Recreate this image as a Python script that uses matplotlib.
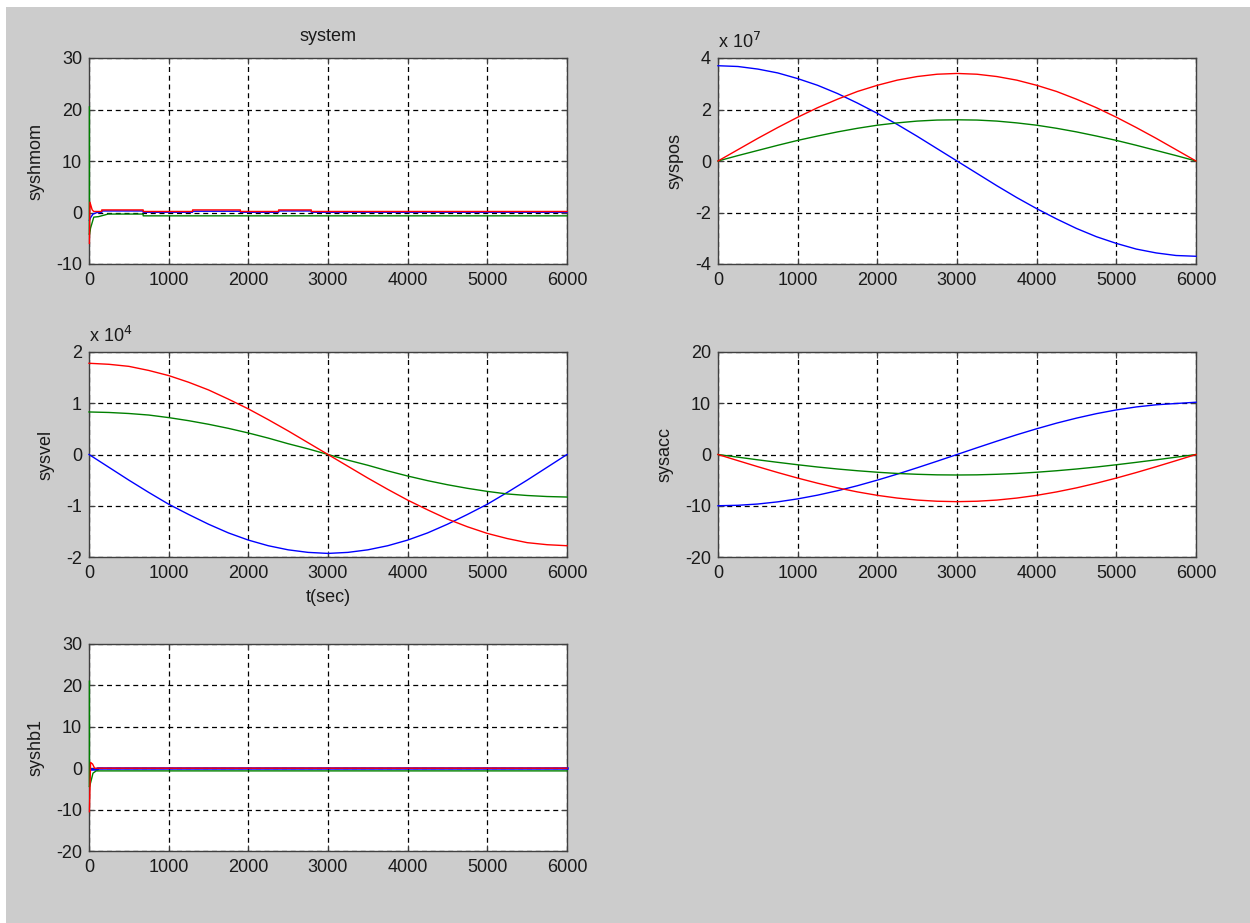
import numpy as np
import matplotlib
matplotlib.use("Agg")
import matplotlib.pyplot as plt
from matplotlib.patches import Rectangle

plt.rcParams['font.family'] = ['Liberation Sans', 'DejaVu Sans']
plt.rcParams['axes.unicode_minus'] = False

# --- time samples (sec) ---
t = [0, 250, 500, 750, 1000, 1250, 1500, 1750, 2000, 2250, 2500, 2750, 3000,
     3250, 3500, 3750, 4000, 4250, 4500, 4750, 5000, 5250, 5500, 5750, 6000]

# --- syspos (x 1e7) ---
pos_blue = [3.70, 3.67, 3.57, 3.42, 3.20, 2.94, 2.62, 2.25, 1.85, 1.42, 0.96, 0.48, 0.00,
            -0.48, -0.96, -1.42, -1.85, -2.25, -2.62, -2.94, -3.20, -3.42, -3.57, -3.67, -3.70]
pos_green = [0, 0.21, 0.41, 0.61, 0.80, 0.97, 1.13, 1.27, 1.39, 1.48, 1.55, 1.59, 1.60,
             1.59, 1.55, 1.48, 1.39, 1.27, 1.13, 0.97, 0.80, 0.61, 0.41, 0.21, 0]
pos_red = [0, 0.44, 0.88, 1.30, 1.70, 2.07, 2.40, 2.70, 2.94, 3.14, 3.28, 3.37, 3.40,
           3.37, 3.28, 3.14, 2.94, 2.70, 2.40, 2.07, 1.70, 1.30, 0.88, 0.44, 0]

# --- sysvel (x 1e4) ---
vel_blue = [0, -0.25, -0.50, -0.74, -0.97, -1.17, -1.36, -1.53, -1.67, -1.78, -1.86, -1.91, -1.93,
            -1.91, -1.86, -1.78, -1.67, -1.53, -1.36, -1.17, -0.97, -0.74, -0.50, -0.25, 0]
vel_green = [0.83, 0.82, 0.80, 0.77, 0.72, 0.66, 0.59, 0.51, 0.42, 0.32, 0.21, 0.11, 0,
             -0.11, -0.21, -0.32, -0.42, -0.51, -0.59, -0.66, -0.72, -0.77, -0.80, -0.82, -0.83]
vel_red = [1.78, 1.76, 1.72, 1.64, 1.54, 1.41, 1.26, 1.08, 0.89, 0.68, 0.46, 0.23, 0,
           -0.23, -0.46, -0.68, -0.89, -1.08, -1.26, -1.41, -1.54, -1.64, -1.72, -1.76, -1.78]

# --- sysacc ---
acc_blue = [-10.0, -9.91, -9.66, -9.24, -8.66, -7.93, -7.07, -6.09, -5.00, -3.83, -2.59, -1.31, 0,
            1.31, 2.60, 3.85, 5.02, 6.12, 7.10, 7.97, 8.70, 9.28, 9.70, 9.95, 10.2]
acc_green = [0, -0.52, -1.04, -1.53, -2.00, -2.44, -2.83, -3.17, -3.46, -3.70, -3.86, -3.97, -4.00,
             -3.97, -3.86, -3.70, -3.46, -3.17, -2.83, -2.44, -2.00, -1.53, -1.04, -0.52, 0]
acc_red = [0, -1.20, -2.38, -3.52, -4.60, -5.60, -6.51, -7.30, -7.97, -8.50, -8.89, -9.12, -9.20,
           -9.12, -8.89, -8.50, -7.97, -7.30, -6.51, -5.60, -4.60, -3.52, -2.38, -1.20, 0]

# --- syshmom ---
hmom_t_blue = [5, 20, 50, 100, 160, 160, 680, 680, 1300, 1300, 1900, 1900, 2380, 2380, 2790, 2790, 6000]
hmom_blue = [-1.5, -1.0, -0.3, 0.0, 0.0, 0.3, 0.3, 0.05, 0.05, 0.25, 0.25, 0.05, 0.05, 0.3, 0.3, 0.05, 0.05]
hmom_t_green = [5, 5, 20, 60, 120, 240, 680, 680, 6000]
hmom_green = [20.5, -4.3, -3.0, -0.9, -0.8, -0.3, -0.3, -0.65, -0.65]
hmom_t_red = [5, 12, 40, 60, 160, 160, 680, 680, 1300, 1300, 1900, 1900, 2380, 2380, 2790, 2790, 6000]
hmom_red = [-6.0, 2.0, 0.5, 0.2, 0.2, 0.5, 0.5, 0.2, 0.2, 0.5, 0.5, 0.2, 0.2, 0.5, 0.5, 0.2, 0.2]

# --- syshb1 ---
hb1_t_blue = [8, 15, 100, 100, 6000]
hb1_blue = [-0.3, -0.3, -0.3, 0, 0]
hb1_t_green = [5, 5, 20, 50, 90, 6000]
hb1_green = [21.0, -4.5, -3.5, -1.2, -0.65, -0.65]
hb1_t_red = [5, 20, 45, 70, 6000]
hb1_red = [-10.5, 1.4, 1.0, 0.0, 0.0]

x_ticks = [0, 1000, 2000, 3000, 4000, 5000, 6000]

B, G, R = (0, 0, 1), (0, 0.5, 0), (1, 0, 0)
W, H = 1250, 923
TXT = '#1a1a1a'

fig = plt.figure(figsize=(W / 100, H / 100), dpi=100)
fig.patch.set_facecolor('white')
fig.patches.append(Rectangle((6 / W, 0), 1, 1 - 7 / H, transform=fig.transFigure,
                             facecolor='#cccccc', edgecolor='none', zorder=-10))

def make_ax(left, top, bottom, ylim, yticks, ylabel, lab_x):
    ax = fig.add_axes([left / W, 1 - bottom / H, 478 / W, (bottom - top) / H])
    ax.set_facecolor('white')
    ax.set_xlim(0, 6000)
    ax.set_ylim(*ylim)
    ax.set_xticks(x_ticks)
    ax.set_yticks(yticks)
    ax.grid(True, color='black', linestyle=(0, (4, 3)), linewidth=0.9)
    for s in ax.spines.values():
        s.set_color('#404040')
        s.set_linewidth(1.0)
    ax.tick_params(direction='in', length=4, width=0.8, color='#404040',
                   top=True, right=True, labelsize=13, labelcolor=TXT)
    ax.tick_params(axis='x', pad=6)
    ax.tick_params(axis='y', pad=5)
    ax.set_ylabel(ylabel, fontsize=13, color=TXT)
    ax.yaxis.set_label_coords(lab_x, 0.5)
    return ax

def curves(ax, data, lws=(1.0, 1.0, 1.0)):
    for (x, y), c, lw in zip(data, (B, G, R), lws):
        ax.plot(x, y, color=c, lw=lw, zorder=3, clip_on=False)

# row 1
ax1 = make_ax(89, 58, 264, (-10, 30), [-10, 0, 10, 20, 30], 'syshmom', -0.094)
curves(ax1, [(hmom_t_blue, hmom_blue), (hmom_t_green, hmom_green), (hmom_t_red, hmom_red)])
ax1.set_title('system', fontsize=13, color=TXT, pad=12)

ax2 = make_ax(718, 58, 264, (-4, 4), [-4, -2, 0, 2, 4], 'syspos', -0.073)
curves(ax2, [(t, pos_blue), (t, pos_green), (t, pos_red)])
ax2.text(0, 1.03, r'x 10$^{7}$', transform=ax2.transAxes, fontsize=13,
         color=TXT, va='bottom', ha='left')

# row 2
ax3 = make_ax(89, 352, 557, (-2, 2), [-2, -1, 0, 1, 2], 'sysvel', -0.073)
curves(ax3, [(t, vel_blue), (t, vel_green), (t, vel_red)])
ax3.text(0, 1.03, r'x 10$^{4}$', transform=ax3.transAxes, fontsize=13,
         color=TXT, va='bottom', ha='left')
ax3.set_xlabel('t(sec)', fontsize=13, color=TXT)
ax3.xaxis.set_label_coords(0.5, -0.155)

ax4 = make_ax(718, 352, 557, (-20, 20), [-20, -10, 0, 10, 20], 'sysacc', -0.094)
curves(ax4, [(t, acc_blue), (t, acc_green), (t, acc_red)])

# row 3
ax5 = make_ax(89, 644, 851, (-20, 30), [-20, -10, 0, 10, 20, 30], 'syshb1', -0.094)
curves(ax5, [(hb1_t_blue, hb1_blue), (hb1_t_green, hb1_green), (hb1_t_red, hb1_red)],
       lws=(1.8, 1.0, 1.0))

fig.savefig('out.png', dpi=100)
